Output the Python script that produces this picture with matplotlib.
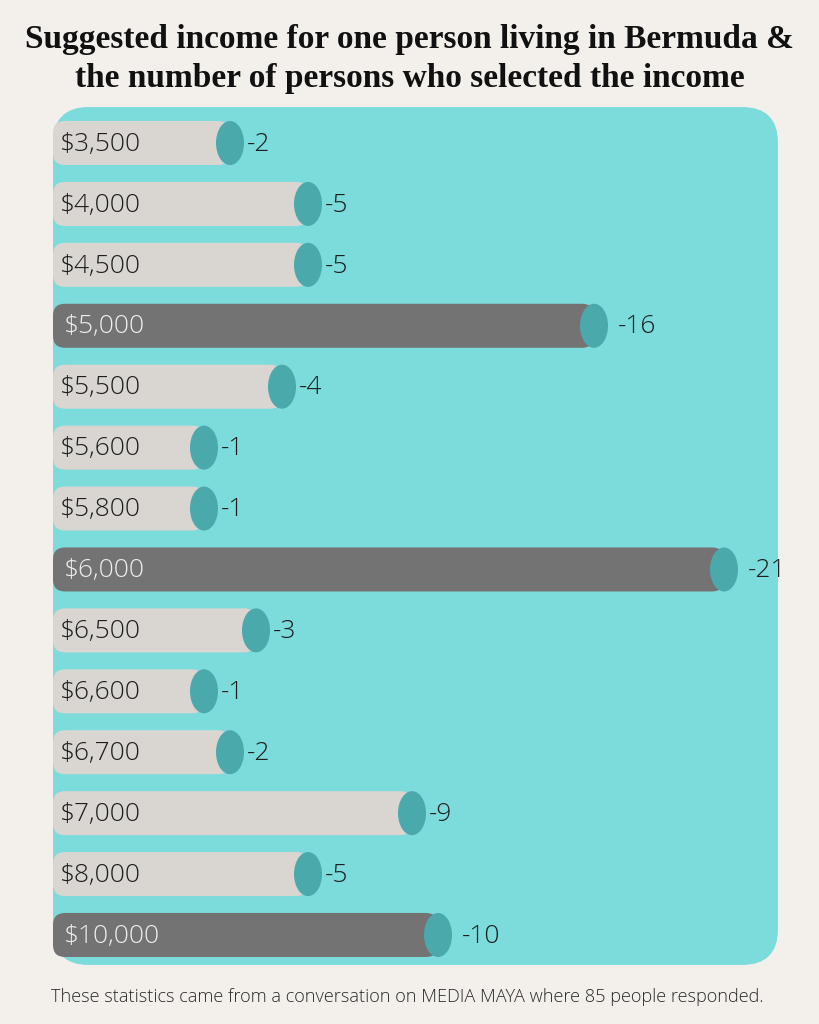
import matplotlib
matplotlib.use("Agg")
import matplotlib.pyplot as plt
from matplotlib.patches import FancyBboxPatch, Ellipse

incomes = ["$3,500", "$4,000", "$4,500", "$5,000", "$5,500", "$5,600", "$5,800",
           "$6,000", "$6,500", "$6,600", "$6,700", "$7,000", "$8,000", "$10,000"]
persons = [2, 5, 5, 16, 4, 1, 1, 21, 3, 1, 2, 9, 5, 10]
highlight = [False, False, False, True, False, False, False,
             True, False, False, False, False, False, True]

title = ("Suggested income for one person living in Bermuda &\n"
         "the number of persons who selected the income")
footer = "These statistics came from a conversation on MEDIA MAYA where 85 people responded."

BG = "#f3f0eb"
PANEL = "#7cdbdb"
CAP = "#4aa9ab"
LIGHT = "#d9d6d2"
DARK = "#737373"

W, H = 819, 1024
fig = plt.figure(figsize=(W / 100, H / 100), dpi=100, facecolor=BG)

# background / panel in pixel coordinates
bg = fig.add_axes([0, 0, 1, 1])
bg.set_xlim(0, W)
bg.set_ylim(H, 0)
bg.axis("off")
bg.add_patch(FancyBboxPatch((53, 107), 725, 858, boxstyle="round,pad=0,rounding_size=36",
                            fc=PANEL, ec="none"))

bg.text(W / 2, 59, title, ha="center", va="center", fontsize=24, fontweight="bold",
        family="Liberation Serif", color="#111111", linespacing=1.3)
bg.text(407, 997, footer, ha="center", va="center", fontsize=13.1, family="Open Sans",
        fontweight="light", color="#2a2a2a")

# bar axes: 1 person = 26 px, rows 60.9 px apart
px_per_x = 26.0
px_per_y = 60.9
x0 = 178
y_top, y_bot = 143 - px_per_y / 2, 935 + px_per_y / 2
ax = fig.add_axes([53 / W, (H - y_bot) / H, 725 / W, (y_bot - y_top) / H])
ax.set_xlim((53 - x0) / px_per_x, (778 - x0) / px_per_x)
ax.set_ylim(len(incomes) - 0.5, -0.5)
ax.axis("off")
ax.patch.set_alpha(0)

x_left = (53 - x0) / px_per_x
bh = 44 / px_per_y
aspect = px_per_x / px_per_y
for i, (lab, v, hi) in enumerate(zip(incomes, persons, highlight)):
    ax.add_patch(FancyBboxPatch((x_left, i - bh / 2), v - x_left, bh,
                                boxstyle="round,pad=0,rounding_size=%f" % (12 / px_per_x),
                                mutation_aspect=aspect,
                                fc=DARK if hi else LIGHT, ec="none"))
    ax.add_patch(Ellipse((v, i), 28 / px_per_x, bh, fc=CAP, ec="none"))
    ax.text(x_left + (11 if hi else 7) / px_per_x, i + 0.02, lab, ha="left", va="center",
            fontsize=19, family="Open Sans", fontweight="light",
            color="#eeeeee" if hi else "#1e1e1e")
    gap = 10 if v >= 10 else 3
    ax.text(v + (14 + gap) / px_per_x, i + 0.02, "-%d" % v, ha="left", va="center",
            fontsize=19, family="Open Sans", fontweight="light", color="#1e1e1e")

fig.savefig("out.png", dpi=100, facecolor=BG)
